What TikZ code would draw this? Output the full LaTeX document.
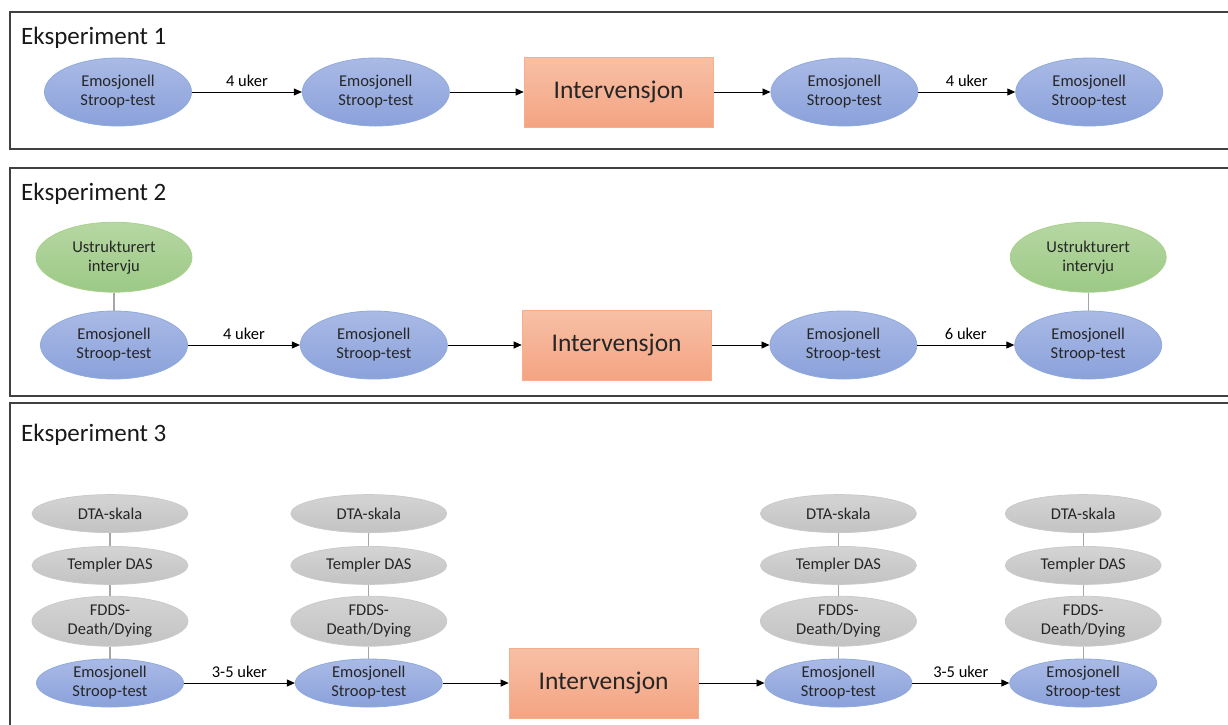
\documentclass[tikz,border=0pt]{standalone}
\usepackage{fontspec}
\setmainfont{Carlito}
\usetikzlibrary{positioning,shapes.geometric,arrows.meta}

\definecolor{bluetop}{HTML}{AABAE6}
\definecolor{bluebot}{HTML}{8AA1DA}
\definecolor{blueline}{HTML}{8FAADC}
\definecolor{greentop}{HTML}{B6D7A3}
\definecolor{greenbot}{HTML}{9CC985}
\definecolor{greenline}{HTML}{A9D18E}
\definecolor{greytop}{HTML}{D4D4D4}
\definecolor{greybot}{HTML}{C3C3C3}
\definecolor{greyline}{HTML}{CACACA}
\definecolor{orangetop}{HTML}{F7C0A6}
\definecolor{orangebot}{HTML}{F4A482}
\definecolor{orangeline}{HTML}{F7AE8A}
\definecolor{framegrey}{HTML}{404040}
\definecolor{linegrey}{HTML}{A6A6A6}
\definecolor{txtgrey}{HTML}{262626}

\begin{document}
\begin{tikzpicture}[x = 1pt, y = 1pt,
    every node/.style = {font = \fontsize{16.5}{19}\selectfont, text = txtgrey},
    stroop/.style = {ellipse, draw = blueline, line width = 0.8pt, top color = bluetop,
      bottom color = bluebot, minimum width = 147pt, minimum height = 68pt,
      inner sep = 0pt, align = center},
    stroopsmall/.style = {stroop, minimum height = 48pt},
    intervju/.style = {ellipse, draw = greenline, line width = 0.8pt, top color = greentop,
      bottom color = greenbot, minimum width = 156pt, minimum height = 70pt,
      inner sep = 0pt, align = center},
    skala/.style = {ellipse, draw = greyline, line width = 0.8pt, top color = greytop,
      bottom color = greybot, minimum width = 156pt, minimum height = 38pt,
      inner sep = 0pt, align = center},
    skalahigh/.style = {skala, minimum height = 50pt},
    interv/.style = {rectangle, draw = orangeline, line width = 0.8pt, top color = orangetop,
      bottom color = orangebot, minimum width = 189pt, minimum height = 70pt,
      font = \fontsize{25.5}{30}\selectfont},
    tittel/.style = {anchor = base west, inner sep = 0pt, text = black!90,
      font = \fontsize{25}{30}\selectfont},
    pil/.style = {-{Triangle[length = 8pt, width = 7pt]}, line width = 0.9pt, black},
    strek/.style = {draw = linegrey, line width = 1.2pt},
    uker/.style = {above, inner sep = 5pt, text = black},
    ramme/.style = {draw = framegrey, line width = 1.3pt}]

    \useasboundingbox (0,0) rectangle (1228,-724);
    \clip (0,0) rectangle (1228,-724);

    \draw[ramme] (10,-12) rectangle (1240,-149);
    \draw[ramme] (10,-168) rectangle (1240,-396);
    \draw[ramme] (10,-403) rectangle (1240,-740);

    % Eksperiment 1
    \node[tittel] (t1) at (21,-44) {Eksperiment 1};
    \node[stroop] (e1a) at (118,-92) {Emosjonell\\Stroop-test};
    \node[stroop, right = 110pt of e1a] (e1b) {Emosjonell\\Stroop-test};
    \node[interv, right = 74pt of e1b] (int1) {Intervensjon};
    \node[stroop, right = 57pt of int1] (e1c) {Emosjonell\\Stroop-test};
    \node[stroop, right = 97pt of e1c] (e1d) {Emosjonell\\Stroop-test};

    \draw[pil] (e1a) -- node[uker] {4 uker} (e1b);
    \draw[pil] (e1b) -- (int1);
    \draw[pil] (int1) -- (e1c);
    \draw[pil] (e1c) -- node[uker] {4 uker} (e1d);

    % Eksperiment 2
    \node[tittel] (t2) at (21,-200.5) {Eksperiment 2};
    \node[stroop] (e2a) at (114,-345) {Emosjonell\\Stroop-test};
    \node[stroop, right = 112pt of e2a] (e2b) {Emosjonell\\Stroop-test};
    \node[interv, right = 74pt of e2b] (int2) {Intervensjon};
    \node[stroop, right = 58pt of int2] (e2c) {Emosjonell\\Stroop-test};
    \node[stroop, right = 97pt of e2c] (e2d) {Emosjonell\\Stroop-test};
    \node[intervju, above = 18pt of e2a] (ui2a) {Ustrukturert\\intervju};
    \node[intervju, above = 18pt of e2d] (ui2d) {Ustrukturert\\intervju};

    \draw[strek] (ui2a) -- (e2a);
    \draw[strek] (ui2d) -- (e2d);
    \draw[pil] (e2a) -- node[uker] {4 uker} (e2b);
    \draw[pil] (e2b) -- (int2);
    \draw[pil] (int2) -- (e2c);
    \draw[pil] (e2c) -- node[uker] {6 uker} (e2d);

    % Eksperiment 3
    \node[tittel] (t3) at (21,-441) {Eksperiment 3};
    \node[stroopsmall] (e3a) at (110,-683) {Emosjonell\\Stroop-test};
    \node[stroopsmall, right = 111pt of e3a] (e3b) {Emosjonell\\Stroop-test};
    \node[interv, right = 66pt of e3b] (int3) {Intervensjon};
    \node[stroopsmall, right = 66pt of int3] (e3c) {Emosjonell\\Stroop-test};
    \node[stroopsmall, right = 97pt of e3c] (e3d) {Emosjonell\\Stroop-test};

    \node[skalahigh, above = 12pt of e3a] (fdds3a) {FDDS-\\Death/Dying};
    \node[skala, above = 11pt of fdds3a] (temp3a) {Templer DAS};
    \node[skala, above = 13pt of temp3a] (dta3a) {DTA-skala};
    \node[skalahigh, above = 12pt of e3b] (fdds3b) {FDDS-\\Death/Dying};
    \node[skala, above = 11pt of fdds3b] (temp3b) {Templer DAS};
    \node[skala, above = 13pt of temp3b] (dta3b) {DTA-skala};
    \node[skalahigh, above = 12pt of e3c] (fdds3c) {FDDS-\\Death/Dying};
    \node[skala, above = 11pt of fdds3c] (temp3c) {Templer DAS};
    \node[skala, above = 13pt of temp3c] (dta3c) {DTA-skala};
    \node[skalahigh, above = 12pt of e3d] (fdds3d) {FDDS-\\Death/Dying};
    \node[skala, above = 11pt of fdds3d] (temp3d) {Templer DAS};
    \node[skala, above = 13pt of temp3d] (dta3d) {DTA-skala};

    \draw[strek] (dta3a) -- (temp3a) -- (fdds3a) -- (e3a);
    \draw[strek] (dta3b) -- (temp3b) -- (fdds3b) -- (e3b);
    \draw[strek] (dta3c) -- (temp3c) -- (fdds3c) -- (e3c);
    \draw[strek] (dta3d) -- (temp3d) -- (fdds3d) -- (e3d);
    \draw[pil] (e3a) -- node[uker] {3-5 uker} (e3b);
    \draw[pil] (e3b) -- (int3);
    \draw[pil] (int3) -- (e3c);
    \draw[pil] (e3c) -- node[uker] {3-5 uker} (e3d);
\end{tikzpicture}
\end{document}
